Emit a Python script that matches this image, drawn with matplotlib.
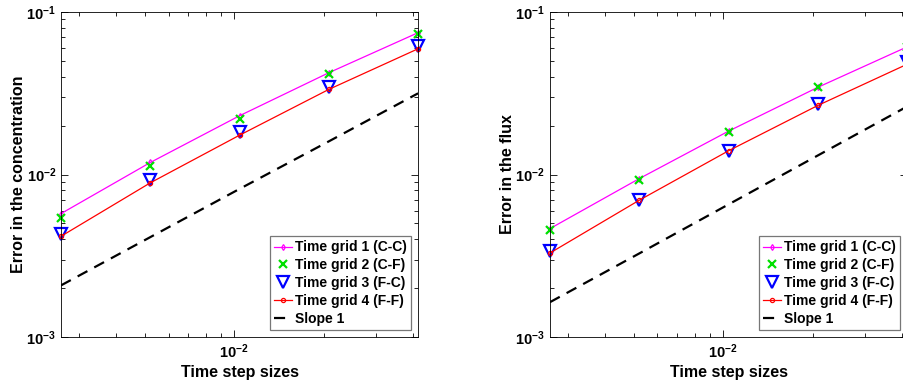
import numpy as np
import matplotlib
matplotlib.use('Agg')
from matplotlib import pyplot as plt
from matplotlib import ticker

plt.rcParams['font.family'] = ['Liberation Sans', 'DejaVu Sans']
plt.rcParams['font.weight'] = 'bold'
plt.rcParams['mathtext.fontset'] = 'custom'
plt.rcParams['mathtext.rm'] = 'Liberation Sans:bold'
plt.rcParams['mathtext.bf'] = 'Liberation Sans:bold'
plt.rcParams['mathtext.default'] = 'bf'

# time step sizes
dt = [1/384, 1/192, 1/96, 1/48, 1/24]

# errors in the concentration
conc_g1 = [0.00575, 0.01186, 0.0230, 0.0423, 0.0746]
conc_g2 = [0.00543, 0.0113, 0.0221, 0.0415, 0.0731]
conc_g3 = [0.00433, 0.00923, 0.01815, 0.0344, 0.0618]
conc_g4 = [0.00417, 0.00889, 0.01746, 0.0334, 0.0594]
conc_slope = [0.00208, 0.00412, 0.00816, 0.0160, 0.0316]

# errors in the flux
flux_g1 = [0.00465, 0.00944, 0.01849, 0.0344, 0.0610]
flux_g2 = [0.00454, 0.0093, 0.0183, 0.0344, 0.0612]
flux_g3 = [0.00339, 0.00702, 0.0140, 0.0270, 0.0494]
flux_g4 = [0.00329, 0.00695, 0.0140, 0.0266, 0.0477]
flux_slope = [0.00164, 0.00327, 0.00655, 0.0131, 0.0262]

labels = ['Time grid 1 (C-C)', 'Time grid 2 (C-F)', 'Time grid 3 (F-C)',
          'Time grid 4 (F-F)', 'Slope 1']
ylabels = ['Error in the concentration', 'Error in the flux']

fig = plt.figure(figsize=(9.04, 3.87), dpi=100)
ax1 = fig.add_axes([0.0675, 0.129, 0.395, 0.840])
ax2 = fig.add_axes([0.6084, 0.129, 0.395, 0.840])

panels = [(ax1, conc_g1, conc_g2, conc_g3, conc_g4, conc_slope),
          (ax2, flux_g1, flux_g2, flux_g3, flux_g4, flux_slope)]

for i, (ax, g1, g2, g3, g4, sl) in enumerate(panels):
    ax.loglog(dt, g1, '-d', color='#ff00ff', lw=0.9, ms=3, mfc='none', mew=0.9,
              label=labels[0], clip_on=False)
    ax.loglog(dt, g2, 'x', color='#00e000', ms=6, mew=1.6, label=labels[1], clip_on=False)
    ax.loglog(dt, g3, 'v', color='#0000ff', ms=8.5, mfc='none', mew=1.6,
              label=labels[2], clip_on=False)
    ax.loglog(dt, g4, '-o', color='#ff0000', lw=0.9, ms=3, mfc='none', mew=0.9,
              label=labels[3], clip_on=False)
    ax.loglog(dt, sl, '--', color='black', lw=1.6, dashes=(5, 3.5), label=labels[4])
    ax.set_xlim(dt[0], dt[-1])
    ax.set_ylim(1e-3, 1e-1)
    ax.set_xlabel('Time step sizes', fontsize=11.5, fontweight='bold', labelpad=3)
    ax.set_ylabel(ylabels[i], fontsize=11.5, fontweight='bold', labelpad=0)
    ax.xaxis.set_minor_formatter(ticker.NullFormatter())
    ax.yaxis.set_minor_formatter(ticker.NullFormatter())
    ax.tick_params(which='both', direction='in', top=True, right=True, labelsize=10.5, width=0.6)
    ax.tick_params(which='major', length=5)
    ax.tick_params(which='minor', length=3)
    for s in ax.spines.values():
        s.set_linewidth(0.6)
    leg = ax.legend(loc='lower right', fontsize=10, frameon=True, fancybox=False,
                    edgecolor='#555555', handlelength=1.3, handletextpad=0.2,
                    labelspacing=0.28, borderpad=0.3, borderaxespad=0.5)
    leg.get_frame().set_linewidth(0.9)
    for t in leg.get_texts():
        t.set_fontweight('bold')

fig.savefig('out.png', dpi=100)
